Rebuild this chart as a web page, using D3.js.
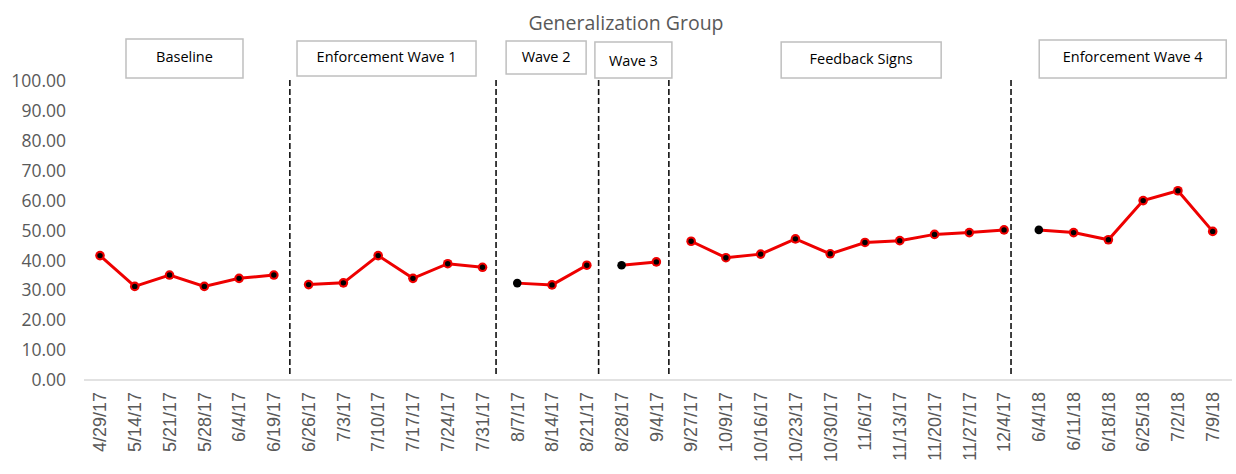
<html>
<head>
    <meta charset="utf-8">
    <title>Generalization Group</title>
    <style>
        body { margin: 0; padding: 0; background: white; }
        .ylab { font-family: "Open Sans", sans-serif; font-size: 17.5px; fill: #595959; }
        .xlab { font-family: "Liberation Sans", Arial, sans-serif; font-size: 18px; fill: #595959; }
        .title { font-family: "Open Sans", sans-serif; font-size: 19.5px; fill: #595959; }
        .boxlab { font-family: "Open Sans", sans-serif; font-size: 14.5px; fill: #000; }
    </style>
</head>
<body>
<div id="chart"></div>
<script src="https://d3js.org/d3.v7.min.js"></script>
<script>
    // data
    var dates = ["4/29/17", "5/14/17", "5/21/17", "5/28/17", "6/4/17", "6/19/17",
        "6/26/17", "7/3/17", "7/10/17", "7/17/17", "7/24/17", "7/31/17",
        "8/7/17", "8/14/17", "8/21/17",
        "8/28/17", "9/4/17",
        "9/27/17", "10/9/17", "10/16/17", "10/23/17", "10/30/17", "11/6/17", "11/13/17", "11/20/17", "11/27/17", "12/4/17",
        "6/4/18", "6/11/18", "6/18/18", "6/25/18", "7/2/18", "7/9/18"];
    var values = [41.6, 31.3, 35.1, 31.3, 34.0, 35.1,
        31.9, 32.5, 41.6, 34.0, 38.9, 37.7,
        32.4, 31.8, 38.4,
        38.4, 39.5,
        46.4, 40.9, 42.1, 47.2, 42.2, 46.0, 46.6, 48.7, 49.3, 50.2,
        50.2, 49.3, 46.9, 60.0, 63.3, 49.7];
    var phaseNames = ["Baseline", "Enforcement Wave 1", "Wave 2", "Wave 3", "Feedback Signs", "Enforcement Wave 4"];
    var phaseSizes = [6, 6, 3, 2, 10, 6];
    var plainDots = ["8/7/17", "8/28/17", "6/4/18"];
    var yTicks = [0, 10, 20, 30, 40, 50, 60, 70, 80, 90, 100];

    var width = 1236, height = 474;
    var svg = d3.select("#chart").append("svg")
        .attr("width", width)
        .attr("height", height);

    var x = d3.scalePoint().domain(d3.range(dates.length)).range([100, 1212.7]);
    var step = x.step();
    var y = d3.scaleLinear().domain([0, 100]).range([380, 81]);

    // where each index lands (fractional allowed)
    function xi(i) { return x(0) + i * step; }

    // phase index for each point
    var phaseOf = [];
    phaseSizes.forEach(function (n, p) {
        for (var k = 0; k < n; k++) phaseOf.push(p);
    });

    svg.append("text")
        .attr("class", "title")
        .attr("x", 626).attr("y", 30)
        .attr("text-anchor", "middle")
        .text("Generalization Group");

    // y labels (no axis line)
    svg.append("g").selectAll("text")
        .data(yTicks).enter().append("text")
        .attr("class", "ylab")
        .attr("x", 66)
        .attr("y", function (d) { return y(d); })
        .attr("dy", "0.35em")
        .attr("text-anchor", "end")
        .text(function (d) { return d3.format(".2f")(d); });

    // x axis line
    svg.append("line")
        .attr("x1", 84).attr("x2", 1232)
        .attr("y1", y(0)).attr("y2", y(0))
        .attr("stroke", "#d9d9d9").attr("stroke-width", 1.5);

    svg.append("g").selectAll("text")
        .data(dates).enter().append("text")
        .attr("class", "xlab")
        .attr("text-anchor", "end")
        .attr("dy", "0.35em")
        .attr("transform", function (d, i) { return "translate(" + x(i) + ",392) rotate(-90)"; })
        .text(function (d) { return d; });

    // phase change lines, drawn by hand in the original so not exactly between points
    var dividers = [5.46, 11.39, 14.34, 16.36, 26.2];
    svg.append("g").selectAll("line")
        .data(dividers).enter().append("line")
        .attr("x1", xi).attr("x2", xi)
        .attr("y1", 80).attr("y2", 374)
        .attr("stroke", "#111").attr("stroke-width", 1.6)
        .attr("stroke-dasharray", "6,3");

    // phase label boxes
    var boxes = [
        { c: 2.43, w: 117, top: 39, h: 39, ty: 57 },
        { c: 8.24, w: 179, top: 41, h: 35, ty: 57 },
        { c: 12.83, w: 80, top: 41, h: 33, ty: 57 },
        { c: 15.34, w: 77, top: 42, h: 36, ty: 61 },
        { c: 21.89, w: 160, top: 42, h: 36, ty: 59 },
        { c: 29.7, w: 187, top: 40, h: 38, ty: 57 }
    ];
    var bg = svg.append("g").selectAll("g")
        .data(phaseNames).enter().append("g");
    bg.append("rect")
        .attr("x", function (d, i) { return xi(boxes[i].c) - boxes[i].w / 2; })
        .attr("y", function (d, i) { return boxes[i].top; })
        .attr("width", function (d, i) { return boxes[i].w; })
        .attr("height", function (d, i) { return boxes[i].h; })
        .attr("fill", "white")
        .attr("stroke", "#bfbfbf").attr("stroke-width", 1.5);
    bg.append("text")
        .attr("class", "boxlab")
        .attr("x", function (d, i) { return xi(boxes[i].c); })
        .attr("y", function (d, i) { return boxes[i].ty; })
        .attr("dy", "0.35em")
        .attr("text-anchor", "middle")
        .text(function (d) { return d; });

    // lines, one per phase
    var line = d3.line()
        .x(function (d) { return x(d); })
        .y(function (d) { return y(values[d]); });
    svg.append("g").selectAll("path")
        .data(phaseSizes.map(function (n, p) {
            return d3.range(dates.length).filter(function (i) { return phaseOf[i] === p; });
        }))
        .enter().append("path")
        .attr("d", line)
        .attr("fill", "none")
        .attr("stroke", "#ee0000")
        .attr("stroke-width", 3);

    // markers
    var pts = svg.append("g").selectAll("g")
        .data(d3.range(dates.length)).enter().append("g")
        .attr("transform", function (i) { return "translate(" + x(i) + "," + y(values[i]) + ")"; });
    pts.filter(function (i) { return plainDots.indexOf(dates[i]) < 0; })
        .append("circle")
        .attr("r", 4.8)
        .attr("fill", "#ee0000");
    pts.append("circle")
        .attr("r", function (i) { return plainDots.indexOf(dates[i]) < 0 ? 2.7 : 4.3; })
        .attr("fill", "black");
</script>
</body>
</html>
